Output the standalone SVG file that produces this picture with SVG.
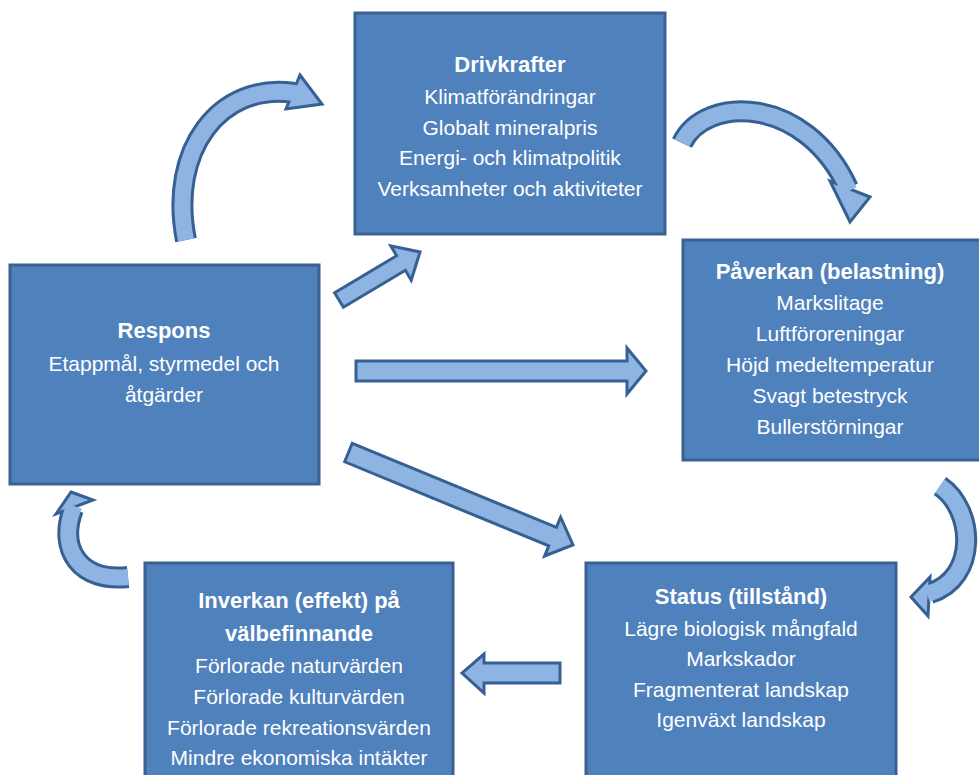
<svg xmlns="http://www.w3.org/2000/svg" width="979" height="775" viewBox="0 0 979 775">
<style>
.box{fill:#4F81BD;stroke:#3A6191;stroke-width:3}
.t{font-family:"Liberation Sans",Arial,sans-serif;fill:#FFFFFF;text-anchor:middle;font-size:21px}
.h{font-weight:bold;font-size:22px}
.arr{fill:#8DB4E2;stroke:#366092;stroke-width:3;stroke-linejoin:miter}
.band-o{fill:none;stroke:#366092;stroke-width:22}
.band-i{fill:none;stroke:#8DB4E2;stroke-width:16}
</style>
<rect width="979" height="775" fill="#FFFFFF"/>
<g id="connectors">
  <!-- curved: Respons -> Drivkrafter -->
  <g id="c1">
    <path class="band-o" d="M186,240 C168,150 220,82 294,93"/>
    <polygon class="arr" points="300,75 322,104 286,109"/>
    <path class="band-i" d="M186,240 C168,150 220,82 294,93 L297,93.5"/>
  </g>
  <!-- curved: Drivkrafter -> Paverkan -->
  <g id="c2">
    <path class="band-o" d="M682,143 C705,95 805,95 848,188"/>
    <polygon class="arr" points="830,181 850,222 870,197"/>
    <path class="band-i" d="M682,143 C705,95 805,95 848,188 L849.3,190.7"/>
  </g>
  <!-- curved: Paverkan -> Status -->
  <g id="c3">
    <path class="band-o" d="M940,486 C975,510 978,578 930,593"/>
    <polygon class="arr" points="930,577 911,597 928,616"/>
    <path class="band-i" d="M940,486 C975,510 978,578 930,593 L927,594"/>
  </g>
  <!-- curved: Inverkan -> Respons -->
  <g id="c4">
    <path class="band-o" d="M128,577 C80,582 58,550 73,509"/>
    <polygon class="arr" points="71,492 93,500 56,514"/>
    <path class="band-i" d="M128,577 C80,582 58,550 73,509 L74,506"/>
  </g>
  <!-- straight arrows -->
  <polygon id="a1" class="arr" points="334.6,292.7 396.6,255.7 390.8,245.8 420,252 411.2,280.2 405.4,270.3 343.4,307.3"/>
  <polygon id="a2" class="arr" points="356,361 627,361 627,348 646,371 627,394 627,381 356,381"/>
  <polygon id="a3" class="arr" points="352.3,443.3 556.4,527.4 560.6,517.2 573,545 544.6,556 548.8,545.9 344.7,461.8"/>
  <polygon id="a4" class="arr" points="560,663 484,663 484,654 462,673 484,693 484,683 560,683"/>
</g>
<g id="drivkrafter">
  <rect class="box" x="355" y="13" width="310" height="221"/>
  <text class="t h" x="510" y="72">Drivkrafter</text>
  <text class="t" x="510" y="104">Klimatförändringar</text>
  <text class="t" x="510" y="135">Globalt mineralpris</text>
  <text class="t" x="510" y="165">Energi- och klimatpolitik</text>
  <text class="t" x="510" y="196">Verksamheter och aktiviteter</text>
</g>
<g id="paverkan">
  <rect class="box" x="683" y="240" width="310" height="220"/>
  <text class="t h" x="830" y="279">Påverkan (belastning)</text>
  <text class="t" x="830" y="310">Markslitage</text>
  <text class="t" x="830" y="341">Luftföroreningar</text>
  <text class="t" x="830" y="372">Höjd medeltemperatur</text>
  <text class="t" x="830" y="403">Svagt betestryck</text>
  <text class="t" x="830" y="434">Bullerstörningar</text>
</g>
<g id="respons">
  <rect class="box" x="10" y="265" width="309" height="219"/>
  <text class="t h" x="164" y="338">Respons</text>
  <text class="t" x="164" y="371">Etappmål, styrmedel och</text>
  <text class="t" x="164" y="402">åtgärder</text>
</g>
<g id="status">
  <rect class="box" x="586" y="563" width="310" height="230"/>
  <text class="t h" x="741" y="604">Status (tillstånd)</text>
  <text class="t" x="741" y="636">Lägre biologisk mångfald</text>
  <text class="t" x="741" y="666">Markskador</text>
  <text class="t" x="741" y="697">Fragmenterat landskap</text>
  <text class="t" x="741" y="727">Igenväxt landskap</text>
</g>
<g id="inverkan">
  <rect class="box" x="145" y="563" width="308" height="230"/>
  <text class="t h" x="299" y="608">Inverkan (effekt) på</text>
  <text class="t h" x="299" y="641">välbefinnande</text>
  <text class="t" x="299" y="673">Förlorade naturvärden</text>
  <text class="t" x="299" y="704">Förlorade kulturvärden</text>
  <text class="t" x="299" y="735">Förlorade rekreationsvärden</text>
  <text class="t" x="299" y="765">Mindre ekonomiska intäkter</text>
</g>
</svg>
